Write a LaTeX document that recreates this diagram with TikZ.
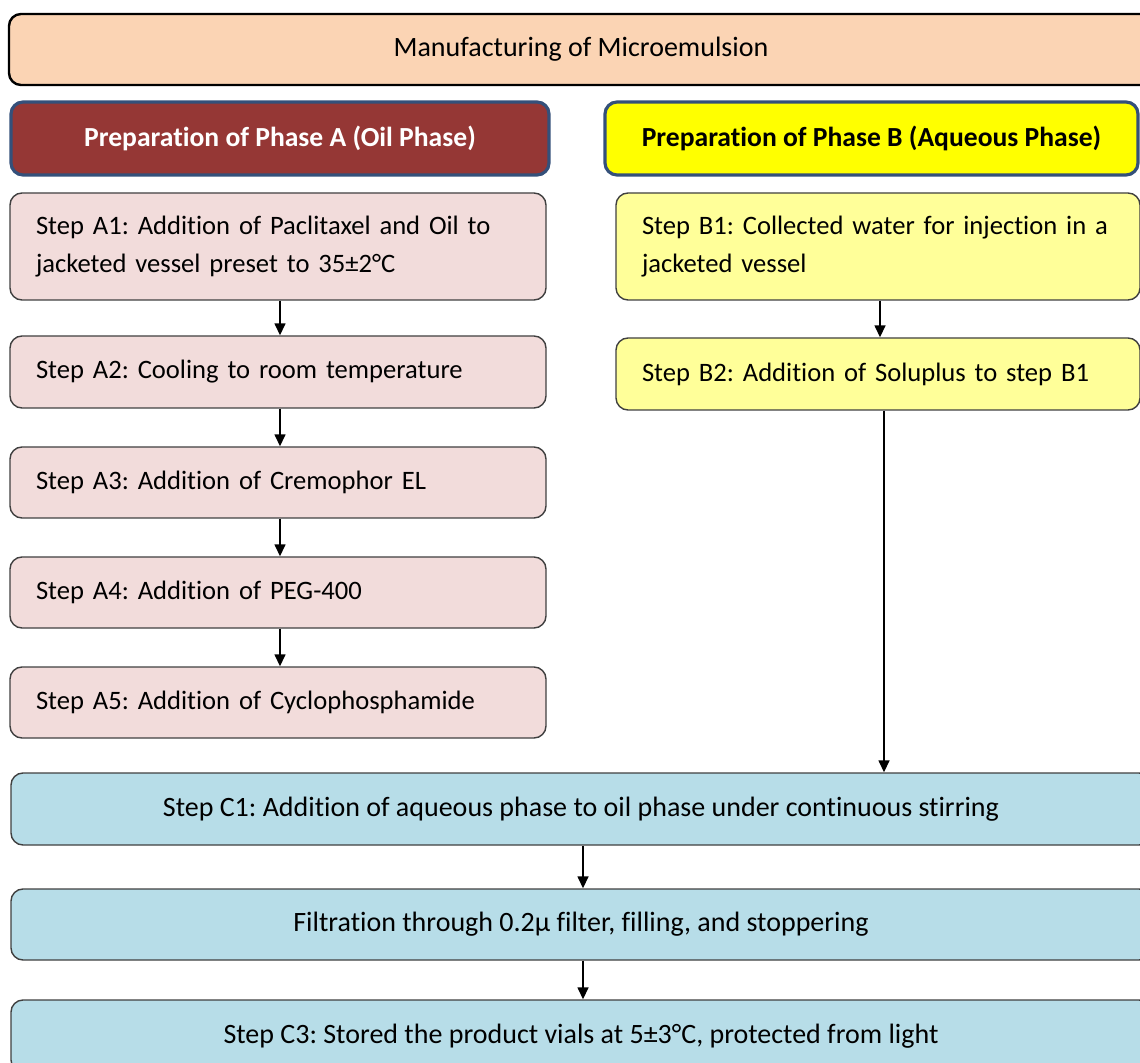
\documentclass[tikz,border=0pt]{standalone}
\usepackage{fontspec}
\setmainfont{Carlito}[Ligatures=NoCommon]
\frenchspacing
\definecolor{MEpeach}{HTML}{FBD4B4}
\definecolor{MEoilred}{HTML}{953735}
\definecolor{MEframe}{HTML}{34507A}
\definecolor{MEpink}{HTML}{F2DCDB}
\definecolor{MEyellow}{HTML}{FFFF00}
\definecolor{MEpaleyellow}{HTML}{FFFF99}
\definecolor{MEblue}{HTML}{B7DDE8}
\usetikzlibrary{arrows.meta, calc, positioning}

\begin{document}
\frenchspacing
\begin{tikzpicture}[x=0.5pt, y=-0.5pt,
		font=\fontsize{13.3}{19}\selectfont,
		box/.style={draw=black!75, line width=0.7pt, rounded corners=6pt, inner xsep=13pt, inner ysep=0pt},
		titlebox/.style={box, draw=black, line width=1.2pt, fill=MEpeach, font=\fontsize{14}{19}\selectfont},
		phasebox/.style={box, draw=MEframe, line width=1.6pt, font=\fontsize{13.8}{19}\selectfont\bfseries},
		oilstep/.style={box, fill=MEpink, minimum width=268pt, text width=242pt, align=left},
		aqstep/.style={box, fill=MEpaleyellow, minimum width=262pt, text width=236pt, align=left},
		mixstep/.style={box, fill=MEblue, minimum width=570pt, minimum height=36pt, font=\fontsize{14}{19}\selectfont},
		flow/.style={-{Triangle[length=6pt,width=5.5pt]}, line width=0.75pt}]
			\useasboundingbox (0,0) rectangle (1140,1063);
			\clip (0,0) rectangle (1140,1063);
			
			% Title
			\node[titlebox, minimum width=572pt, minimum height=35.5pt] (title) at (581,49.5) {Manufacturing of Microemulsion};
			
			% Phase headers
			\node[phasebox, fill=MEoilred, text=white, minimum width=269pt, minimum height=36.5pt] (phaseA) at (280,138.5) {Preparation of Phase A (Oil Phase)};
			\node[phasebox, fill=MEyellow, minimum width=266.5pt, minimum height=36.5pt] (phaseB) at (871.5,138.5) {Preparation of Phase B (Aqueous Phase)};
			
			% Oil phase steps
			\node[oilstep, minimum height=53.5pt] (A1) at (278,246.5) {Step A1: Addition of Paclitaxel and Oil to\\jacketed vessel preset to 35±2°C};
			\node[oilstep, minimum height=36pt] (A2) at (278,372) {Step A2: Cooling to room temperature};
			\node[oilstep, minimum height=35.5pt] (A3) at (278,482.5) {Step A3: Addition of Cremophor EL};
			\node[oilstep, minimum height=35.5pt] (A4) at (278,592.5) {Step A4: Addition of PEG-400};
			\node[oilstep, minimum height=35.5pt] (A5) at (278,702.5) {Step A5: Addition of Cyclophosphamide};
			
			% Aqueous phase steps
			\node[aqstep, minimum height=53.5pt] (B1) at (878,246.5) {Step B1: Collected water for injection in a\\jacketed vessel};
			\node[aqstep, minimum height=36pt] (B2) at (878,374) {Step B2: Addition of Soluplus to step B1};
			
			% Mixing and finishing
			\node[mixstep] (C1) at (581,809) {Step C1: Addition of aqueous phase to oil phase under continuous stirring};
			\node[mixstep, minimum height=35.5pt] (C2) at (581,924.5) {Filtration through 0.2µ filter, filling, and stoppering};
			\node[mixstep] (C3) at (581,1036) {Step C3: Stored the product vials at 5±3°C, protected from light};
			
			% Arrows
			\foreach \from/\to in {A1/A2, A2/A3, A3/A4, A4/A5, B1/B2, C1/C2, C2/C3}
			{
				\draw[flow] ($(\from.south)+(2,0)$) -- ($(\to.north)+(2,0)$);
			}
			\coordinate (drop) at ($(B2.south)+(6,0)$);
			\draw[flow] (drop) -- (drop |- C1.north);
			
		\end{tikzpicture}
\end{document}
